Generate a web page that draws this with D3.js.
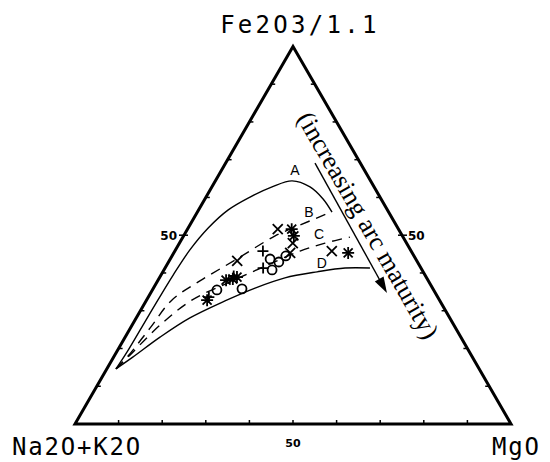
<!DOCTYPE html>
<html>
<head>
<meta charset="utf-8">
<script src="https://cdn.jsdelivr.net/npm/d3@7"></script>
<style>
  body { margin: 0; background: #fff; }
</style>
</head>
<body>
<div id="chart"></div>
<script>
// AFM ternary values in percent: f = Fe2O3/1.1, m = MgO (Na2O+K2O = 100 - f - m)
var curveA = [[14.6,2.1],[19.1,2.4],[26.2,2.5],[32.8,2.6],[39.5,2.8],[46.1,3.3],[51.9,4.6],
              [56.7,6.8],[60.1,10.1],[62.8,13.8],[64.4,17.6],[62.8,22.5],[59.6,27.1],[56.1,30.9]];
var curveB = [[14.6,2.1],[17.7,3.1],[25.4,4.5],[32.8,5.8],[37.9,9.7],[43.4,15.0],[49.8,21.0],
              [52.7,25.3],[55.6,29.8]];
var curveC = [[14.6,2.1],[18.3,3.5],[26.2,6.4],[32.8,10.4],[37.6,16.7],[41.8,22.7],[45.8,28.7],
              [47.9,33.4],[49.5,38.3]];
var curveD = [[14.6,2.1],[17.7,4.4],[23.0,8.0],[28.1,12.3],[32.6,18.1],[36.0,23.3],[38.7,28.8],
              [40.3,35.4],[41.3,41.3],[41.3,47.0]];
var curveNames = ["A", "B", "C", "D"];
var labelPos = [[67.3,16.8],[56.1,25.6],[50.3,30.8],[42.6,35.3]];

var crosses = [[51.6,20.7],[43.2,15.6],[45.3,26.7],[45.8,36.0],[47.9,26.0]];
var pluses = [[45.8,20.2],[41.3,22.5],[33.6,13.9],[39.2,16.8]];
var stars = [[51.6,23.9],[49.8,25.3],[38.1,15.6],[38.9,17.7],[32.8,13.9],[45.3,40.0],[38.4,17.0]];
var circles = [[43.7,22.9],[42.9,25.3],[44.5,26.1],[40.8,24.8],[35.5,14.8],[35.8,20.4]];

var arrowFrom = [69.1,20.5], arrowTo = [34.7,54.2];
var tickVals = [10,20,30,40,50,60,70,80,90];

var width = 550, height = 462;
var left = 75, base = 424, side = 436, h = side * Math.sqrt(3) / 2;

var sx = d3.scaleLinear().domain([0, 100]).range([left, left + side]);
var sy = d3.scaleLinear().domain([0, 100]).range([base, base - h]);
function pt(d) { return [sx(d[1] + d[0] / 2), sy(d[0])]; }

var svg = d3.select("#chart").append("svg")
  .attr("width", width).attr("height", height);

// triangle frame
var corners = [[0,0],[100,0],[0,100]].map(pt);
svg.append("path")
  .attr("d", "M" + corners.join("L") + "Z")
  .attr("fill", "none").attr("stroke", "#000")
  .attr("stroke-width", 3).attr("stroke-linejoin", "miter");

// ticks
var ticks = svg.append("g").attr("stroke", "#000").attr("stroke-width", 1.5);
tickVals.forEach(function(v) {
  var p = pt([v, 0]);
  ticks.append("line").attr("x1", p[0] - (v == 50 ? 5 : 0)).attr("y1", p[1])
    .attr("x2", p[0] + 4).attr("y2", p[1]);
  p = pt([v, 100 - v]);
  ticks.append("line").attr("x1", p[0] - 4).attr("y1", p[1])
    .attr("x2", p[0] + (v == 50 ? 5 : 0)).attr("y2", p[1]);
  p = pt([0, v]);
  ticks.append("line").attr("x1", p[0]).attr("y1", p[1] - 4)
    .attr("x2", p[0]).attr("y2", p[1]);
});

var tickFont = "DejaVu Sans, sans-serif";
var pL = pt([50, 0]), pR = pt([50, 50]), pB = pt([0, 50]);
svg.append("text").attr("x", pL[0] - 7).attr("y", pL[1] + 5).attr("text-anchor", "end")
  .attr("font-family", tickFont).attr("font-size", 12).attr("font-weight", "bold").text("50");
svg.append("text").attr("x", pR[0] + 6).attr("y", pR[1] + 5)
  .attr("font-family", tickFont).attr("font-size", 12).attr("font-weight", "bold").text("50");
svg.append("text").attr("x", pB[0]).attr("y", pB[1] + 23).attr("text-anchor", "middle")
  .attr("font-family", tickFont).attr("font-size", 11).attr("font-weight", "bold").text("50");

// corner labels
var labFont = "DejaVu Sans Mono, monospace";
svg.append("text").attr("x", 300).attr("y", 33).attr("text-anchor", "middle")
  .attr("font-family", labFont).attr("font-size", 24).attr("letter-spacing", 3.3)
  .text("Fe2O3/1.1");
svg.append("text").attr("x", 12).attr("y", 455)
  .attr("font-family", labFont).attr("font-size", 24).attr("letter-spacing", 1.8)
  .text("Na2O+K2O");
svg.append("text").attr("x", 492).attr("y", 455)
  .attr("font-family", labFont).attr("font-size", 24).attr("letter-spacing", 1.8)
  .text("MgO");

// trend curves
var line = d3.line().x(function(d) { return pt(d)[0]; }).y(function(d) { return pt(d)[1]; })
  .curve(d3.curveCatmullRom.alpha(0.5));
[curveA, curveB, curveC, curveD].forEach(function(c, i) {
  svg.append("path").attr("d", line(c))
    .attr("fill", "none").attr("stroke", "#000").attr("stroke-width", 1.4)
    .attr("stroke-dasharray", (i == 1 || i == 2) ? "10,7" : null);
});
labelPos.forEach(function(d, i) {
  var p = pt(d);
  svg.append("text").attr("x", p[0]).attr("y", p[1] + 5).attr("text-anchor", "middle")
    .attr("font-family", "Liberation Sans, Arial, sans-serif").attr("font-size", 14)
    .text(curveNames[i]);
});

// arrow + caption
var a0 = pt(arrowFrom), a1 = pt(arrowTo);
var ang = Math.atan2(a1[1] - a0[1], a1[0] - a0[0]);
svg.append("line").attr("x1", a0[0]).attr("y1", a0[1])
  .attr("x2", a1[0] - 12 * Math.cos(ang)).attr("y2", a1[1] - 12 * Math.sin(ang))
  .attr("stroke", "#000").attr("stroke-width", 1.4);
svg.append("path")
  .attr("d", "M0,0L-16,-5L-16,5Z")
  .attr("transform", "translate(" + a1 + ") rotate(" + (ang * 180 / Math.PI) + ")")
  .attr("fill", "#000");

var apex = pt([100, 0]), br = pt([0, 100]);
var edgeAng = Math.atan2(br[1] - apex[1], br[0] - apex[0]);
var along = 64, inset = 33;
var tx = apex[0] + along * Math.cos(edgeAng) - inset * Math.sin(edgeAng);
var ty = apex[1] + along * Math.sin(edgeAng) + inset * Math.cos(edgeAng);
svg.append("text")
  .attr("transform", "translate(" + tx + "," + ty + ") rotate(" + (edgeAng * 180 / Math.PI) + ")")
  .attr("font-family", "Liberation Serif, Times New Roman, serif").attr("font-size", 26)
  .text("(increasing arc maturity)");

// samples
var sym = svg.append("g").attr("stroke", "#000").attr("stroke-width", 1.8).attr("fill", "none");
function cross(g, d, r) {
  var p = pt(d);
  g.append("path").attr("d", "M" + (p[0]-r) + "," + (p[1]-r) + "L" + (p[0]+r) + "," + (p[1]+r) +
    "M" + (p[0]-r) + "," + (p[1]+r) + "L" + (p[0]+r) + "," + (p[1]-r));
}
function plus(g, d, r) {
  var p = pt(d);
  g.append("path").attr("d", "M" + (p[0]-r) + "," + p[1] + "L" + (p[0]+r) + "," + p[1] +
    "M" + p[0] + "," + (p[1]-r) + "L" + p[0] + "," + (p[1]+r));
}
crosses.forEach(function(d) { cross(sym, d, 5); });
pluses.forEach(function(d) { plus(sym, d, 5.5); });
stars.forEach(function(d) { cross(sym, d, 4.5); plus(sym, d, 6); });
circles.forEach(function(d) {
  var p = pt(d);
  sym.append("circle").attr("cx", p[0]).attr("cy", p[1]).attr("r", 4.5);
});
</script>
</body>
</html>
